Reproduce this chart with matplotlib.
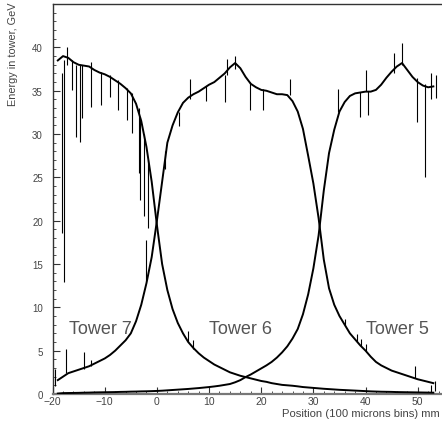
import matplotlib
matplotlib.use("Agg")
import matplotlib.pyplot as plt
from matplotlib.ticker import MultipleLocator

plt.rcParams['font.family'] = ['Liberation Sans', 'DejaVu Sans']

# position in mm (one value per mm)
pos = list(range(-19, 54))

tower7 = [38.5, 39.0, 38.8, 38.3, 38.0, 37.9, 37.8, 37.4, 37.1, 36.9,
          36.6, 36.2, 35.8, 35.3, 34.7, 33.5, 31.5, 28.5, 24.5, 19.5,
          15.0, 12.0, 9.8, 8.2, 7.0, 6.0, 5.3, 4.7, 4.2, 3.8,
          3.4, 3.1, 2.8, 2.5, 2.3, 2.1, 1.95, 1.8, 1.65, 1.5,
          1.4, 1.25, 1.15, 1.05, 1.0, 0.95, 0.88, 0.8, 0.75, 0.7,
          0.65, 0.6, 0.56, 0.52, 0.48, 0.45, 0.42, 0.39, 0.36, 0.33,
          0.3, 0.28, 0.26, 0.25, 0.24, 0.22, 0.21, 0.2, 0.19, 0.18,
          0.17, 0.16, 0.15]

tower6 = [1.6, 2.0, 2.4, 2.6, 2.8, 3.0, 3.2, 3.5, 3.8, 4.1,
          4.5, 5.0, 5.6, 6.2, 7.0, 8.4, 10.3, 12.8, 15.8, 20.0,
          24.5, 29.0, 31.0, 32.5, 33.6, 34.2, 34.6, 34.9, 35.3, 35.7,
          36.0, 36.5, 37.0, 37.7, 38.2, 37.6, 36.6, 35.8, 35.4, 35.1,
          35.0, 34.8, 34.6, 34.6, 34.5, 33.8, 32.6, 30.6, 27.5, 24.3,
          20.3, 15.5, 12.2, 10.3, 9.0, 8.0, 7.0, 6.3, 5.6, 5.0,
          4.3, 3.7, 3.3, 3.0, 2.7, 2.5, 2.3, 2.1, 1.9, 1.7,
          1.55, 1.4, 1.25]

tower5 = [0.05, 0.1, 0.11, 0.12, 0.13, 0.15, 0.16, 0.18, 0.19, 0.2,
          0.21, 0.22, 0.24, 0.25, 0.27, 0.28, 0.3, 0.31, 0.33, 0.35,
          0.38, 0.42, 0.46, 0.5, 0.54, 0.58, 0.63, 0.68, 0.74, 0.8,
          0.87, 0.95, 1.05, 1.15, 1.35, 1.6, 1.95, 2.25, 2.6, 2.95,
          3.3, 3.7, 4.2, 4.8, 5.5, 6.4, 7.5, 9.2, 11.5, 14.5,
          18.3, 23.5, 27.8, 30.5, 32.6, 33.7, 34.4, 34.7, 34.8, 34.9,
          34.9, 35.1, 35.7, 36.5, 37.2, 37.8, 38.2, 37.4, 36.6, 36.0,
          35.6, 35.4, 35.5]

# fluctuating bins: position, low end, high end
spike_x = [-18.2, -17.9, -17.2, -16.2, -15.5, -14.8, -14.4, -12.7, -10.8, -8.9,
           -7.4, -5.7, -4.7, -3.5, -3.2, -2.4, -1.8, -2.0,
           -19.5, -17.5, -14.0, -12.7,
           1.5, 4.2, 6.4, 9.5, 13.1, 13.5, 15.0, 17.9, 20.4, 25.6,
           6.0, 7.0, 36.0, 38.4, 39.2, 40.1, 49.5,
           34.8, 39.0, 40.0, 40.5, 45.5, 47.0, 49.9, 51.4, 52.5, 53.5,
           52.5, 53.3]
spike_lo = [18.6, 12.9, 38.0, 35.1, 29.7, 29.1, 31.9, 33.1, 33.4, 34.3,
            32.8, 31.6, 30.1, 25.5, 22.4, 20.5, 19.2, 13.0,
            0.9, 2.4, 2.9, 3.2,
            26.0, 30.9, 34.0, 33.8, 33.7, 36.8, 37.5, 32.8, 32.8, 34.5,
            6.0, 5.2, 7.8, 6.0, 5.5, 5.0, 1.8,
            32.5, 32.0, 35.0, 32.2, 37.0, 38.0, 31.4, 25.0, 34.0, 34.2,
            0.2, 0.3]
spike_hi = [37.0, 38.5, 40.0, 38.5, 38.0, 38.0, 38.0, 38.3, 37.2, 36.8,
            36.2, 35.3, 34.7, 33.0, 32.0, 30.0, 27.0, 17.8,
            2.9, 5.2, 4.8, 3.9,
            28.0, 32.6, 36.4, 35.5, 36.8, 38.7, 39.0, 36.0, 35.2, 36.3,
            7.3, 6.2, 8.6, 6.9, 6.3, 5.8, 3.2,
            35.2, 34.8, 37.4, 35.0, 39.4, 40.5, 36.5, 35.8, 37.0, 36.8,
            1.0, 1.5]

labels = ["Tower 7", "Tower 6", "Tower 5"]
label_x = [-16.9, 9.9, 40.0]
label_y = [7.6, 7.6, 7.6]

fig = plt.figure(figsize=(4.42, 4.27), dpi=100)
ax = fig.add_axes([0.119, 0.075, 0.885, 0.913])

for name, lx, ly in zip(labels, label_x, label_y):
    ax.text(lx, ly, name, fontsize=13, color='#555555', va='center', zorder=1)

ax.vlines(spike_x, spike_lo, spike_hi, color='black', lw=0.8, zorder=2)
for series in (tower7, tower6, tower5):
    ax.plot(pos, series, color='black', lw=1.4, zorder=3)

ax.set_xlim(-20, 55)
ax.set_ylim(0, 45)
ax.xaxis.set_major_locator(MultipleLocator(10))
ax.xaxis.set_minor_locator(MultipleLocator(2))
ax.yaxis.set_major_locator(MultipleLocator(5))
ax.yaxis.set_minor_locator(MultipleLocator(1))
ax.set_yticks([0, 5, 10, 15, 20, 25, 30, 35, 40])
ax.tick_params(which='both', direction='in', color='#333333')
ax.tick_params(which='major', length=5, width=0.8)
ax.tick_params(which='minor', length=2.5, width=0.6)
ax.tick_params(axis='y', labelsize=7, labelcolor='#444444', pad=7)
ax.tick_params(axis='x', labelsize=7.5, labelcolor='#444444', pad=1.5)
for side in ('top', 'left', 'right'):
    ax.spines[side].set_color('#333333')
    ax.spines[side].set_linewidth(1.0)
ax.spines['bottom'].set_color('#777777')
ax.spines['bottom'].set_linewidth(1.6)

fig.text(0.0305, 0.995, "Energy in tower, GeV", rotation=90, fontsize=7.8,
         color='#444444', ha='center', va='top')
fig.text(0.638, 0.031, "Position (100 microns bins) mm", fontsize=8.1,
         color='#444444', ha='left', va='center')

fig.savefig("out.png", dpi=100)
